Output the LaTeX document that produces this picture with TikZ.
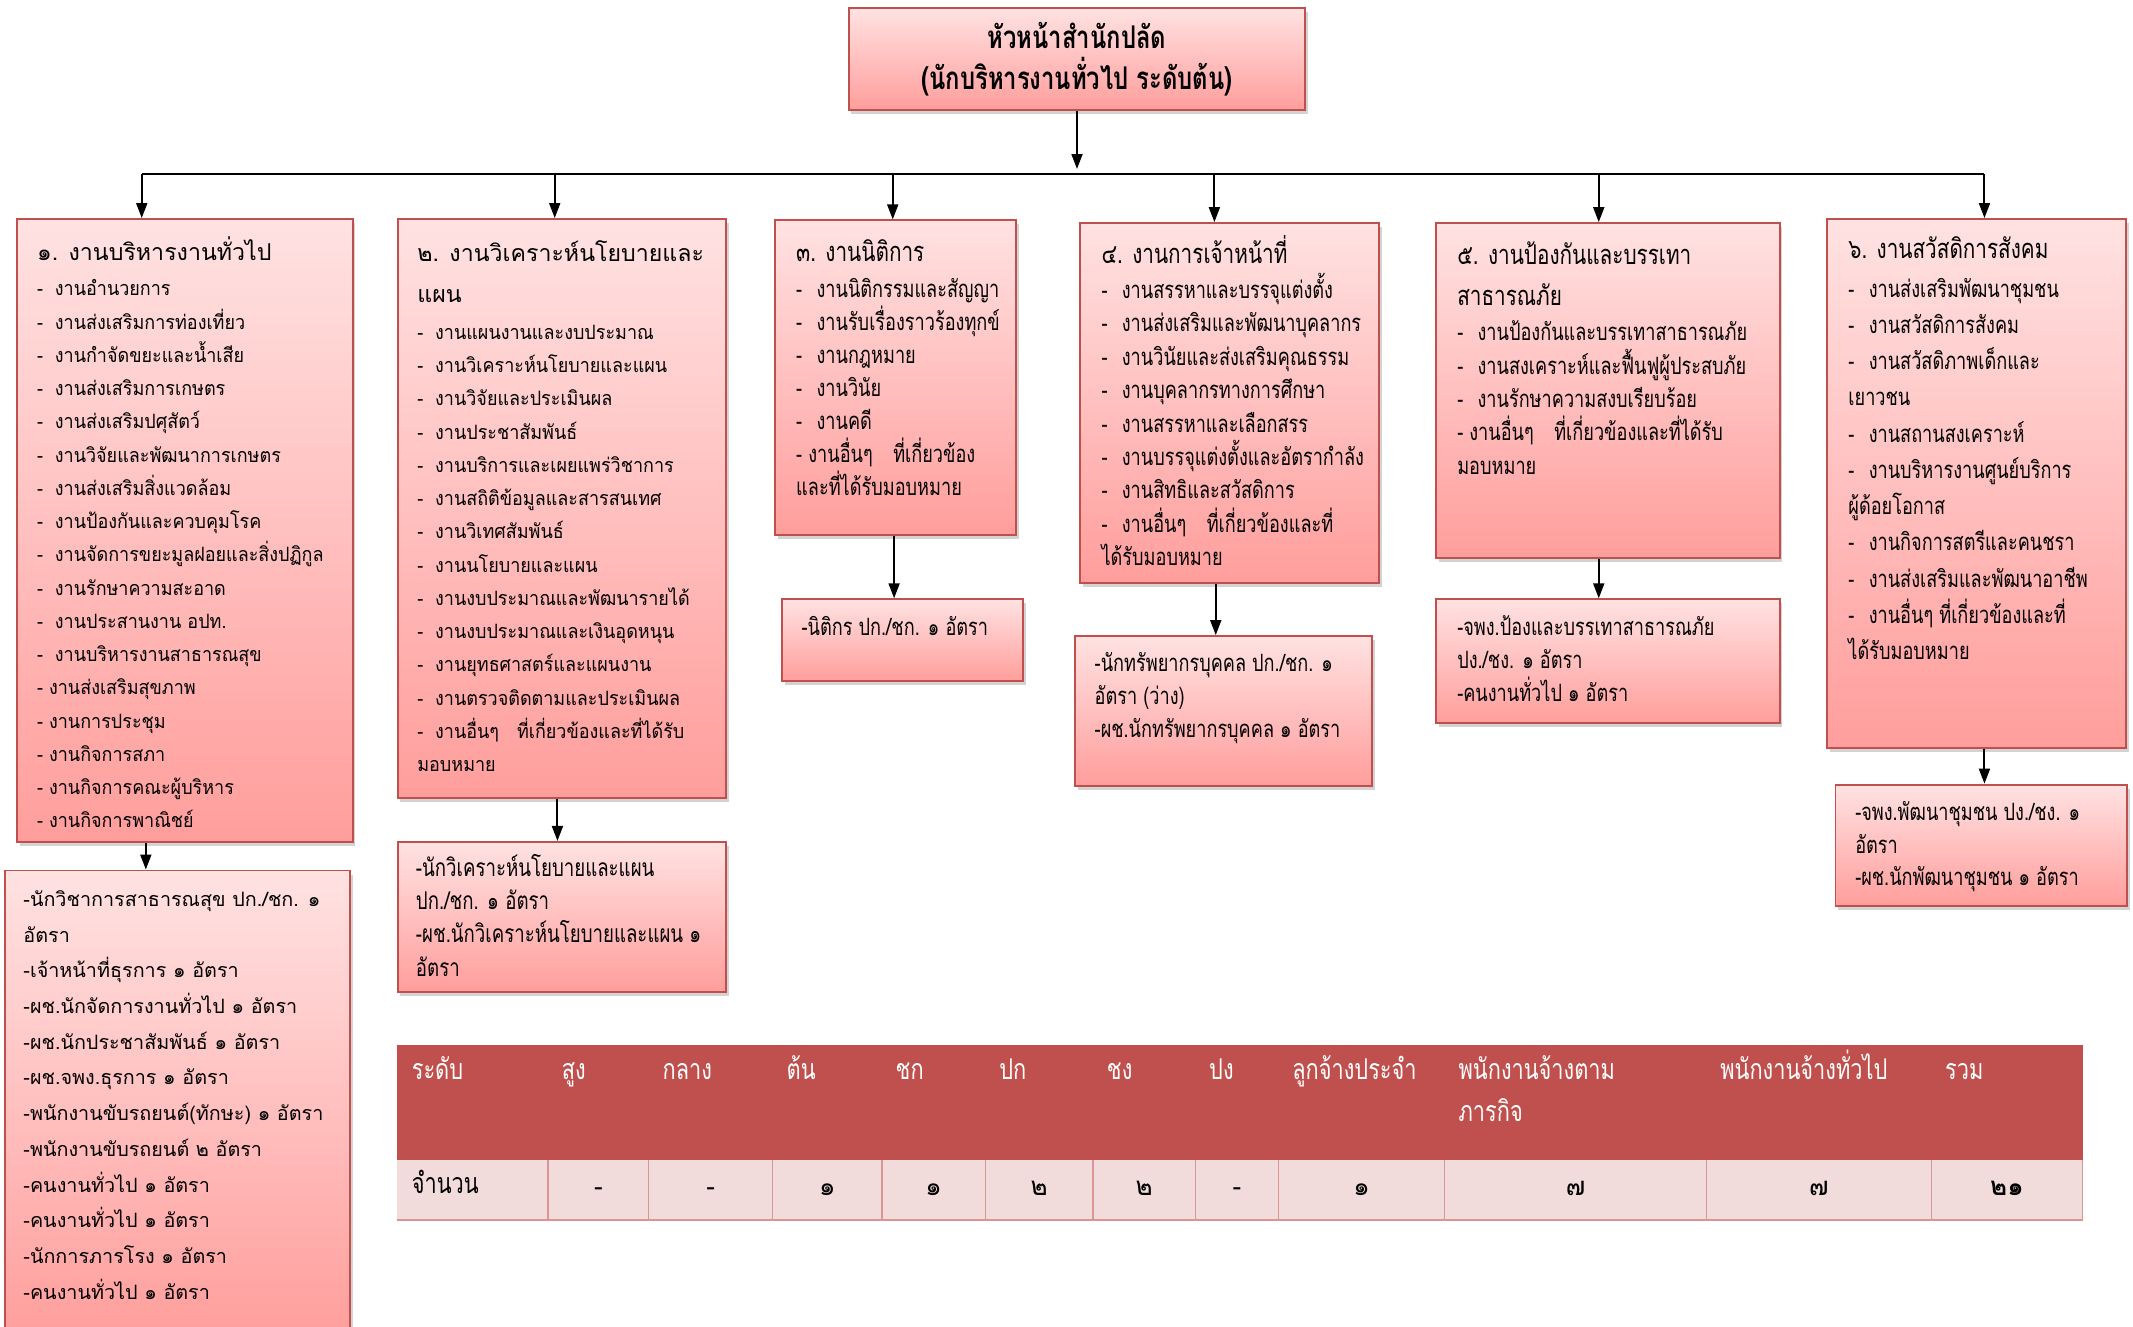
\documentclass[tikz,border=0pt]{standalone}
\usepackage{fontspec}
\setmainfont[Script=Thai]{Loma}
\newfontfamily\thaibody[Script=Thai,FakeStretch=0.91]{Loma}
\newfontfamily\thaicond[Script=Thai,FakeStretch=0.76]{Loma}
\usetikzlibrary{arrows.meta,shadows}

\definecolor{boxtop}{HTML}{FFE2E2}
\definecolor{boxbottom}{HTML}{FF9E9C}
\definecolor{boxline}{HTML}{C0504D}
\definecolor{headrow}{HTML}{C0504D}
\definecolor{datarow}{HTML}{F2DCDB}
\definecolor{rowline}{HTML}{D99694}

% lines of a box: size, skip, text
\newcommand*{\Lines}[3]{\parbox[t]{400pt}{\fontsize{#1}{#2}\selectfont #3}}
\newcommand*{\Dash}{-\hspace{0.6em}}

\begin{document}
\begin{tikzpicture}[x=1pt,y=-1pt,
  orgbox/.style={draw=boxline, line width=1.4pt, top color=boxtop, bottom color=boxbottom,
    anchor=north west, inner sep=0pt,
    drop shadow={shadow xshift=2pt, shadow yshift=-3pt, opacity=0.35}},
  txt/.style={anchor=base west, inner sep=0pt},
  arr/.style={-{Triangle[length=11pt,width=8pt]}, line width=1.5pt}]

\useasboundingbox (0,0) rectangle (1565,973);

% draw head
\node[orgbox, minimum width=335pt, minimum height=75pt, align=center,
  font=\thaicond\bfseries\fontsize{23}{30}\selectfont] (head) at (622,5)
  {หัวหน้าสำนักปลัด\\(นักบริหารงานทั่วไป ระดับต้น)};

% draw section boxes
\node[orgbox, minimum width=246pt, minimum height=457pt] (box1) at (12,160) {};
\node[orgbox, minimum width=241pt, minimum height=425pt] (box2) at (291,160) {};
\node[orgbox, minimum width=177pt, minimum height=231pt] (box3) at (568,161) {};
\node[orgbox, minimum width=219pt, minimum height=264pt] (box4) at (792,163) {};
\node[orgbox, minimum width=252pt, minimum height=246pt] (box5) at (1053,163) {};
\node[orgbox, minimum width=219pt, minimum height=388pt] (box6) at (1340,160) {};

% draw staff boxes
\node[orgbox, minimum width=253pt, minimum height=345pt] (staff1) at (3,638) {};
\node[orgbox, minimum width=241pt, minimum height=110pt] (staff2) at (291,617) {};
\node[orgbox, minimum width=177pt, minimum height=60pt] (staff3) at (573,439) {};
\node[orgbox, minimum width=218pt, minimum height=110pt] (staff4) at (788,466) {};
\node[orgbox, minimum width=252pt, minimum height=91pt] (staff5) at (1053,439) {};
\node[orgbox, minimum width=214pt, minimum height=89pt] (staff6) at (1346,575) {};

% texts of box 1
\node[txt] (title1) at (27,191) {\Lines{17}{30}{๑. งานบริหารงานทั่วไป}};
\node[txt, font=\thaibody] (list1) at (27,217) {\Lines{14.5}{24.4}{%
\Dash งานอำนวยการ\\
\Dash งานส่งเสริมการท่องเที่ยว\\
\Dash งานกำจัดขยะและน้ำเสีย\\
\Dash งานส่งเสริมการเกษตร\\
\Dash งานส่งเสริมปศุสัตว์\\
\Dash งานวิจัยและพัฒนาการเกษตร\\
\Dash งานส่งเสริมสิ่งแวดล้อม\\
\Dash งานป้องกันและควบคุมโรค\\
\Dash งานจัดการขยะมูลฝอยและสิ่งปฏิกูล\\
\Dash งานรักษาความสะอาด\\
\Dash งานประสานงาน อปท.\\
\Dash งานบริหารงานสาธารณสุข\\
- งานส่งเสริมสุขภาพ\\
- งานการประชุม\\
- งานกิจการสภา\\
- งานกิจการคณะผู้บริหาร\\
- งานกิจการพาณิชย์}};

% texts of box 2
\node[txt] (title2) at (306,192) {\Lines{17}{30}{๒. งานวิเคราะห์นโยบายและ\\แผน}};
\node[txt, font=\thaibody] (list2) at (306,249) {\Lines{14.5}{24.4}{%
\Dash งานแผนงานและงบประมาณ\\
\Dash งานวิเคราะห์นโยบายและแผน\\
\Dash งานวิจัยและประเมินผล\\
\Dash งานประชาสัมพันธ์\\
\Dash งานบริการและเผยแพร่วิชาการ\\
\Dash งานสถิติข้อมูลและสารสนเทศ\\
\Dash งานวิเทศสัมพันธ์\\
\Dash งานนโยบายและแผน\\
\Dash งานงบประมาณและพัฒนารายได้\\
\Dash งานงบประมาณและเงินอุดหนุน\\
\Dash งานยุทธศาสตร์และแผนงาน\\
\Dash งานตรวจติดตามและประเมินผล\\
\Dash งานอื่นๆ\hspace{0.6em} ที่เกี่ยวข้องและที่ได้รับ\\
มอบหมาย}};

% texts of box 3
\node[txt, font=\thaicond] (title3) at (584,192) {\Lines{20}{30}{๓. งานนิติการ}};
\node[txt, font=\thaicond] (list3) at (584,218) {\Lines{17.5}{24.3}{%
\Dash งานนิติกรรมและสัญญา\\
\Dash งานรับเรื่องราวร้องทุกข์\\
\Dash งานกฎหมาย\\
\Dash งานวินัย\\
\Dash งานคดี\\
- งานอื่นๆ\hspace{0.6em} ที่เกี่ยวข้อง\\
และที่ได้รับมอบหมาย}};

% texts of box 4
\node[txt, font=\thaicond] (title4) at (808,193) {\Lines{20}{30}{๔. งานการเจ้าหน้าที่}};
\node[txt, font=\thaicond] (list4) at (808,219) {\Lines{17.5}{24.5}{%
\Dash งานสรรหาและบรรจุแต่งตั้ง\\
\Dash งานส่งเสริมและพัฒนาบุคลากร\\
\Dash งานวินัยและส่งเสริมคุณธรรม\\
\Dash งานบุคลากรทางการศึกษา\\
\Dash งานสรรหาและเลือกสรร\\
\Dash งานบรรจุแต่งตั้งและอัตรากำลัง\\
\Dash งานสิทธิและสวัสดิการ\\
\Dash งานอื่นๆ\hspace{0.6em} ที่เกี่ยวข้องและที่\\
ได้รับมอบหมาย}};

% texts of box 5
\node[txt, font=\thaicond] (title5) at (1069,194) {\Lines{20}{30}{๕. งานป้องกันและบรรเทา\\สาธารณภัย}};
\node[txt, font=\thaicond] (list5) at (1069,250) {\Lines{17.5}{24.5}{%
\Dash งานป้องกันและบรรเทาสาธารณภัย\\
\Dash งานสงเคราะห์และฟื้นฟูผู้ประสบภัย\\
\Dash งานรักษาความสงบเรียบร้อย\\
- งานอื่นๆ\hspace{0.6em} ที่เกี่ยวข้องและที่ได้รับ\\
มอบหมาย}};

% texts of box 6
\node[txt, font=\thaicond] (title6) at (1356,190) {\Lines{20}{30}{๖. งานสวัสดิการสังคม}};
\node[txt, font=\thaicond] (list6) at (1356,218) {\Lines{17.5}{26.6}{%
\Dash งานส่งเสริมพัฒนาชุมชน\\
\Dash งานสวัสดิการสังคม\\
\Dash งานสวัสดิภาพเด็กและ\\
เยาวชน\\
\Dash งานสถานสงเคราะห์\\
\Dash งานบริหารงานศูนย์บริการ\\
ผู้ด้อยโอกาส\\
\Dash งานกิจการสตรีและคนชรา\\
\Dash งานส่งเสริมและพัฒนาอาชีพ\\
\Dash งานอื่นๆ ที่เกี่ยวข้องและที่\\
ได้รับมอบหมาย}};

% texts of staff boxes
\node[txt] (people1) at (17,665) {\Lines{14.5}{26.2}{%
-นักวิชาการสาธารณสุข ปก./ชก. ๑\\
อัตรา\\
-เจ้าหน้าที่ธุรการ ๑ อัตรา\\
-ผช.นักจัดการงานทั่วไป ๑ อัตรา\\
-ผช.นักประชาสัมพันธ์ ๑ อัตรา\\
-ผช.จพง.ธุรการ ๑ อัตรา\\
-พนักงานขับรถยนต์(ทักษะ) ๑ อัตรา\\
-พนักงานขับรถยนต์ ๒ อัตรา\\
-คนงานทั่วไป ๑ อัตรา\\
-คนงานทั่วไป ๑ อัตรา\\
-นักการภารโรง ๑ อัตรา\\
-คนงานทั่วไป ๑ อัตรา}};
\node[txt, font=\thaicond] (people2) at (305,643) {\Lines{18}{24.4}{%
-นักวิเคราะห์นโยบายและแผน\\
ปก./ชก. ๑ อัตรา\\
-ผช.นักวิเคราะห์นโยบายและแผน ๑\\
อัตรา}};
\node[txt, font=\thaicond] (people3) at (588,466) {\Lines{17.5}{24.4}{%
-นิติกร ปก./ชก. ๑ อัตรา}};
\node[txt, font=\thaicond] (people4) at (803,493) {\Lines{17.5}{24}{%
-นักทรัพยากรบุคคล ปก./ชก. ๑\\
อัตรา (ว่าง)\\
-ผช.นักทรัพยากรบุคคล ๑ อัตรา}};
\node[txt, font=\thaicond] (people5) at (1069,466) {\Lines{17.5}{24.5}{%
-จพง.ป้องและบรรเทาสาธารณภัย\\
ปง./ชง. ๑ อัตรา\\
-คนงานทั่วไป ๑ อัตรา}};
\node[txt, font=\thaicond] (people6) at (1361,602) {\Lines{17.5}{24}{%
-จพง.พัฒนาชุมชน ปง./ชง. ๑\\
อัตรา\\
-ผช.นักพัฒนาชุมชน ๑ อัตรา}};

% draw connectors
\coordinate (busL) at (104,128);
\coordinate (busR) at (1456,128);
\draw[arr] (head.south) -- ([yshift=4pt]head.south |- busL);
\draw[line width=1.5pt] (busL) -- (busR);
\foreach \n/\x in {1/104,2/407,3/655,4/891,5/1173,6/1456}
{
  \coordinate (top\n) at (\x,128);
  \draw[arr] (top\n) -- (top\n |- box\n.north);
}
\foreach \n/\x in {1/107,2/409,3/656,4/892,5/1173,6/1456}
{
  \coordinate (low\n) at (\x,0);
  \draw[arr] (low\n |- box\n.south) -- (low\n |- staff\n.north);
}

% draw table
\fill[headrow] (291,767) rectangle (1528,851);
\fill[datarow] (291,851) rectangle (1528,895);
\draw[rowline, line width=1pt] (291,895) -- (1528,895);
\node[txt, text=white, font=\thaicond] (level) at (302,792) {\Lines{21}{31}{ระดับ}};
\node[txt, font=\thaicond] (amount) at (302,876) {\Lines{21}{31}{จำนวน}};
\foreach \xl/\xr/\hd/\val [count=\i] in {402/476/สูง/-, 476/567/กลาง/-, 567/647/ต้น/๑,
  647/723/ชก/๑, 723/802/ปก/๒, 802/877/ชง/๒, 877/938/ปง/-, 938/1060/ลูกจ้างประจำ/๑,
  1060/1252/{พนักงานจ้างตาม\\ภารกิจ}/๗, 1252/1417/พนักงานจ้างทั่วไป/๗,
  1417/1528/รวม/{\bfseries ๒๑}}
{
  \draw[rowline, line width=1pt] (\xl,851) -- (\xl,895);
  \node[txt, text=white, font=\thaicond] (hd\i) at ({\xl+10},792) {\Lines{21}{31}{\hd}};
  \node[anchor=base, inner sep=0pt, font=\fontsize{19}{20}\selectfont] (val\i) at ({(\xl+\xr)/2},877) {\val};
}
\draw[rowline, line width=1pt] (1528,851) -- (1528,895);

\end{tikzpicture}
\end{document}
